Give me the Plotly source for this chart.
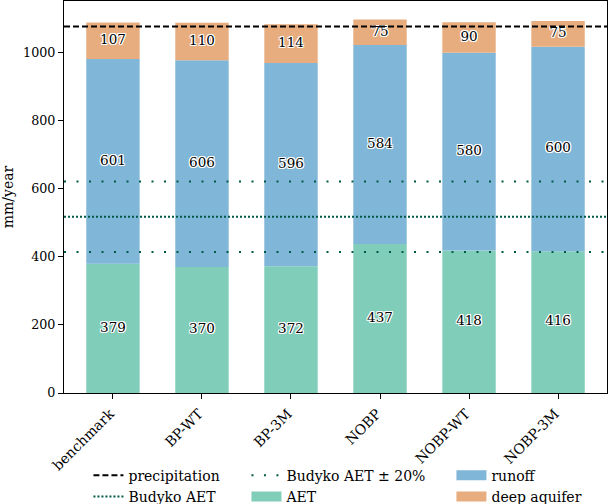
import plotly.graph_objects as go

scenarios = ["benchmark", "BP-WT", "BP-3M", "NOBP", "NOBP-WT", "NOBP-3M"]
aet = [379, 370, 372, 437, 418, 416]
runoff = [601, 606, 596, 584, 580, 600]
deep_aquifer = [107, 110, 114, 75, 90, 75]
precipitation = 1075
budyko_aet = 517

FONT = "DejaVu Serif"
aet_color = "#80cdb9"
runoff_color = "#80b6d8"
deep_color = "#e8ad7e"
line_green = "#005a46"
label_shadow = ("1px 1px 0px white, -1px -1px 0px white, 1px -1px 0px white, "
                "-1px 1px 0px white, 0px 1px 0px white, 0px -1px 0px white, "
                "1px 0px 0px white, -1px 0px 0px white")

x = list(range(len(scenarios)))
xspan = [-0.55, len(scenarios) - 1 + 0.55]

fig = go.Figure()

# stacked bars (legend handled by dummy entries below so the swatches are rectangles)
stacks = [("AET", aet, aet_color, "legend2", 2),
          ("runoff", runoff, runoff_color, "legend3", 1),
          ("deep aquifer", deep_aquifer, deep_color, "legend3", 2)]
base = [0] * len(scenarios)
for name, vals, color, leg, rank in stacks:
    fig.add_trace(go.Bar(x=x, y=vals, base=base, name=name, width=0.6,
                         marker=dict(color=color, line=dict(width=0)),
                         showlegend=False))
    mids = [b + v / 2 for b, v in zip(base, vals)]
    fig.add_trace(go.Scatter(x=x, y=mids, mode="text", text=[str(v) for v in vals],
                             textfont=dict(family=FONT, size=13.5, color="black",
                                           shadow=label_shadow),
                             showlegend=False, hoverinfo="skip"))
    fig.add_trace(go.Scatter(x=[None], y=[None], mode="lines", name=name,
                             legend=leg, legendrank=rank, legendgroup=name,
                             line=dict(color=color, width=10)))
    base = [b + v for b, v in zip(base, vals)]

# reference lines
fig.add_trace(go.Scatter(x=xspan, y=[precipitation] * 2, mode="lines",
                         name="precipitation", legend="legend", legendrank=1,
                         legendgroup="p",
                         line=dict(color="black", width=2, dash="6px,3px")))
fig.add_trace(go.Scatter(x=xspan, y=[budyko_aet] * 2, mode="lines",
                         name="Budyko AET", legend="legend", legendrank=2,
                         legendgroup="b",
                         line=dict(color=line_green, width=2, dash="2px,2px")))
fig.add_trace(go.Scatter(x=xspan, y=[budyko_aet * 1.2] * 2, mode="lines",
                         name="Budyko AET ± 20%", legend="legend2", legendrank=1,
                         legendgroup="b20",
                         line=dict(color=line_green, width=2, dash="2px,10.5px")))
fig.add_trace(go.Scatter(x=xspan, y=[budyko_aet * 0.8] * 2, mode="lines",
                         showlegend=False, hoverinfo="skip",
                         line=dict(color=line_green, width=2, dash="2px,10.5px")))

leg_common = dict(orientation="v", yanchor="top", y=-0.17, xanchor="left",
                  bgcolor="rgba(0,0,0,0)", font=dict(family=FONT, size=14, color="black"),
                  itemwidth=30, tracegroupgap=0)

fig.update_layout(
    width=609, height=504,
    margin=dict(l=64, r=2, t=1, b=111, autoexpand=False),
    plot_bgcolor="white", paper_bgcolor="white",
    font=dict(family=FONT, size=12.7, color="black"),
    barmode="overlay",
    showlegend=True,
    legend=dict(x=0.045, **leg_common),
    legend2=dict(x=0.336, **leg_common),
    legend3=dict(x=0.7135, **leg_common),
    xaxis=dict(range=xspan, tickmode="array", tickvals=x, ticktext=scenarios,
               tickangle=-45, ticks="outside", ticklen=5, tickcolor="black",
               tickfont=dict(size=14), ticklabelstandoff=1, ticklabelshift=-3,
               showline=True, linecolor="black", linewidth=1.2, mirror=True,
               showgrid=False, zeroline=False, automargin=False),
    yaxis=dict(range=[0, 1150], tickvals=[0, 200, 400, 600, 800, 1000],
               ticks="outside", ticklen=5, tickcolor="black",
               showline=True, linecolor="black", linewidth=1.2, mirror=True,
               showgrid=False, zeroline=False, automargin=False,
               title=dict(text="mm/year", standoff=16, font=dict(size=14))),
)

# drop the default page margin so the figure sits at the window's top-left corner
fig.write_html("out.html", config={"displayModeBar": False},
               post_script="document.body.style.margin = '0px';")
